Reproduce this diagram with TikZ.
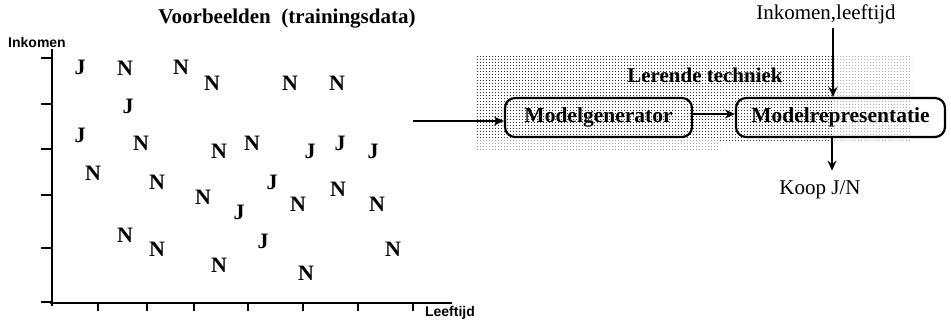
\documentclass[tikz,border=0pt]{standalone}
\usepackage{fontspec}
\setmainfont{Liberation Serif}
\setsansfont{Liberation Sans}
\usetikzlibrary{arrows.meta,patterns,calc}
\pgfdeclarepatternformonly{stipple}{\pgfpointorigin}{\pgfqpoint{3pt}{3pt}}{\pgfqpoint{3pt}{3pt}}{%
  \pgfpathrectangle{\pgfpointorigin}{\pgfqpoint{1.1pt}{1.1pt}}\pgfusepath{fill}}
\begin{document}
\begin{tikzpicture}[x=1pt,y=-1pt,
  titlelbl/.style={font=\fontsize{21}{21}\selectfont\bfseries, inner sep=0pt},
  plainlbl/.style={font=\fontsize{21}{21}\selectfont, inner sep=0pt},
  datapt/.style={font=\fontsize{22}{22}\selectfont\bfseries, inner sep=0pt},
  axlbl/.style={font=\sffamily\bfseries\fontsize{14}{14}\selectfont, inner sep=0pt},
  mbox/.style={draw, line width=2.2pt, rounded corners=10pt, minimum height=39pt,
    inner sep=0pt, font=\fontsize{21.5}{21.5}\selectfont\bfseries},
  arr/.style={line width=1.8pt, -{Stealth[length=10pt,width=9pt]}},
  axline/.style={line width=2pt},
  tick/.style={line width=1.6pt},
]
\useasboundingbox (0,0) rectangle (951,324);

% stippled background of the learning technique
\fill[pattern=stipple, pattern color=black!80] (477,55) rectangle (832,140);
\fill[pattern=stipple, pattern color=black!30] (832,55) rectangle (912,140);
\fill[pattern=stipple, pattern color=black!35] (477,140) rectangle (720,150);

% plot axes
\draw[axline] (52,49) -- (52,306);
\draw[axline] (50,303) -- (452,303);
\foreach \yy in {58,104,149,195,248,302}
  \draw[tick] (41,\yy) -- (52,\yy);
\foreach \xx in {98,147,194,248,303,358,413}
  \draw[tick] (\xx,303) -- (\xx,311);

\node[axlbl] (yl) at (37,42) {Inkomen};
\node[axlbl] (xl) at (450,313) {Leeftijd};
\node[titlelbl] (title) at (287,19) {Voorbeelden\ \ (trainingsdata)};

% data points
\foreach \t/\px/\py [count=\i] in {
  J/80/67, N/125/68, N/181/67, N/212/83, N/290/83, N/337/83,
  J/128/106,
  J/80/135, N/141/143, N/219/151, N/252/143, J/310/151, J/340/143, J/373/151,
  N/93/173, N/157/182, N/203/197, J/239/212, J/272/182, N/298/204, N/338/189, N/377/204,
  N/125/235, N/157/249, N/219/265, J/263/241, N/306/273, N/393/249}
  \node[datapt] (d\i) at (\px,\py) {\t};

% learning technique
\coordinate (src) at (413,121);
\node[titlelbl] (lt) at (705,75) {Lerende techniek};
\node[mbox, minimum width=187pt] (gen) at (598.5,117.5) {Modelgenerator};
\node[mbox, minimum width=209pt] (rep) at (840.5,117.5) {Modelrepresentatie};
\node[plainlbl] (inp) at (826,14) {Inkomen,leeftijd};
\node[plainlbl] (koop) at (820,190) {Koop J/N};

\draw[arr] (src) -- (gen.west |- src);
\draw[arr] ([yshift=3.5pt]gen.east) -- ([yshift=3.5pt]rep.west);
\draw[arr] ([xshift=-7.5pt,yshift=-4pt]inp.south -| rep.north) -- ([xshift=-7.5pt]rep.north);
\draw[arr, shorten >=10pt] ([xshift=-8.5pt]rep.south) -- ([xshift=-8.5pt]koop.north -| rep.south);
\end{tikzpicture}
\end{document}
